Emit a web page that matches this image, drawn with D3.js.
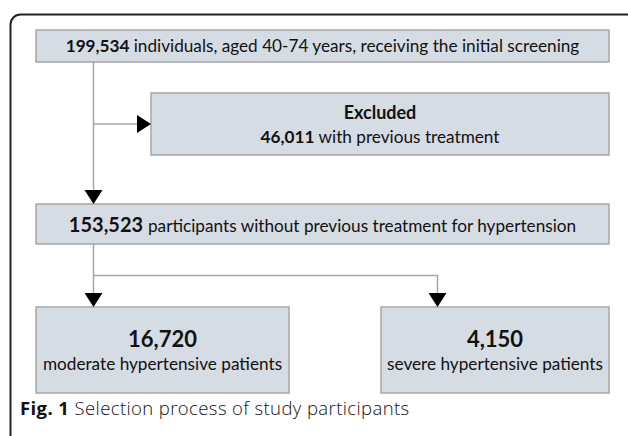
<!DOCTYPE html>
<title>Selection process</title>
<meta charset="utf-8">
<style>
  body { margin: 0; background: #fff; }
  .box { fill: #d6dce4; stroke: #a6a6a6; stroke-width: 1.5px; }
  .link { fill: none; stroke: #a6a6a6; stroke-width: 1.5px; }
  .head { fill: #000; }
  .frame { fill: none; stroke: #222; stroke-width: 2px; }
  text { font-family: Lato, sans-serif; fill: #111; }
  .cap { font-family: "Open Sans", sans-serif; letter-spacing: 0.4px; }
</style>
<body>
<script src="https://d3js.org/d3.v7.min.js"></script>
<script>
// counts in each step of the flow
var counts = [199534, 46011, 153523, 16720, 4150];
var labels = [
  "individuals, aged 40-74 years, receiving the initial screening",
  "with previous treatment",
  "participants without previous treatment for hypertension",
  "moderate hypertensive patients",
  "severe hypertensive patients"
];
var excludedTitle = "Excluded";
var caption = ["Fig. 1", "Selection process of study participants"];

var fmt = d3.format(",");

var width = 628, height = 436;
var svg = d3.select("body").append("svg")
    .attr("width", width)
    .attr("height", height);

// outer frame, cut by the page on the right and bottom
svg.append("rect").attr("class", "frame")
    .attr("x", 10.5).attr("y", 14.5)
    .attr("width", 640).attr("height", 432)
    .attr("rx", 10);

// box layout
var boxes = [
  {x: 36, y: 30, w: 573, h: 32},
  {x: 151, y: 93, w: 458, h: 62},
  {x: 36, y: 204, w: 573, h: 40},
  {x: 36, y: 307, w: 253, h: 86},
  {x: 381, y: 307, w: 228, h: 86}
];

svg.selectAll(".box").data(boxes).enter().append("rect")
    .attr("class", "box")
    .attr("x", function(d) { return d.x; })
    .attr("y", function(d) { return d.y; })
    .attr("width", function(d) { return d.w; })
    .attr("height", function(d) { return d.h; });

// connectors
var stemX = 93.5, rightX = 437.5;
var lines = [
  [[stemX, 62], [stemX, 191]],
  [[stemX, 124], [137, 124]],
  [[stemX, 244], [stemX, 294]],
  [[stemX, 275.5], [rightX, 275.5], [rightX, 294]]
];
svg.selectAll(".link").data(lines).enter().append("path")
    .attr("class", "link")
    .attr("d", d3.line());

// arrow heads: tip point and direction
var heads = [
  {x: stemX, y: 204, dir: "down"},
  {x: 151, y: 124, dir: "right"},
  {x: stemX, y: 307, dir: "down"},
  {x: rightX, y: 307, dir: "down"}
];
svg.selectAll(".head").data(heads).enter().append("path")
    .attr("class", "head")
    .attr("d", function(d) {
      if (d.dir === "down")
        return "M" + (d.x - 9) + "," + (d.y - 14) + "L" + (d.x + 9) + "," + (d.y - 14) + "L" + d.x + "," + d.y + "Z";
      return "M" + (d.x - 14) + "," + (d.y - 9) + "L" + (d.x - 14) + "," + (d.y + 9) + "L" + d.x + "," + d.y + "Z";
    });

function boxText(x, y, parts) {
  var t = svg.append("text").attr("x", x).attr("y", y).attr("text-anchor", "middle");
  parts.forEach(function(p) {
    t.append("tspan")
      .attr("font-size", p.size)
      .attr("font-weight", p.bold ? "bold" : "normal")
      .text(p.text);
  });
  return t;
}

var cx = function(b) { return b.x + b.w / 2; };

boxText(cx(boxes[0]), 51.5, [{text: fmt(counts[0]) + " ", size: 17.2, bold: true}, {text: labels[0], size: 17.2}]);
boxText(cx(boxes[1]), 119, [{text: excludedTitle, size: 18, bold: true}]);
boxText(cx(boxes[1]), 143, [{text: fmt(counts[1]) + " ", size: 17.2, bold: true}, {text: labels[1], size: 17.2}]);
boxText(cx(boxes[2]), 232, [{text: fmt(counts[2]) + " ", size: 20, bold: true}, {text: labels[2], size: 17.2}]);
boxText(cx(boxes[3]), 347, [{text: fmt(counts[3]), size: 22, bold: true}]);
boxText(cx(boxes[3]), 370, [{text: labels[3], size: 17.2}]);
boxText(cx(boxes[4]), 347, [{text: fmt(counts[4]), size: 22, bold: true}]);
boxText(cx(boxes[4]), 370, [{text: labels[4], size: 17.2}]);

// caption
var cap = svg.append("text").attr("class", "cap").attr("x", 20).attr("y", 415);
cap.append("tspan").attr("font-size", 18.5).attr("font-weight", "bold").text(caption[0] + " ");
cap.append("tspan").attr("font-size", 18.5).attr("font-weight", 300).text(caption[1]);
</script>
</body>
